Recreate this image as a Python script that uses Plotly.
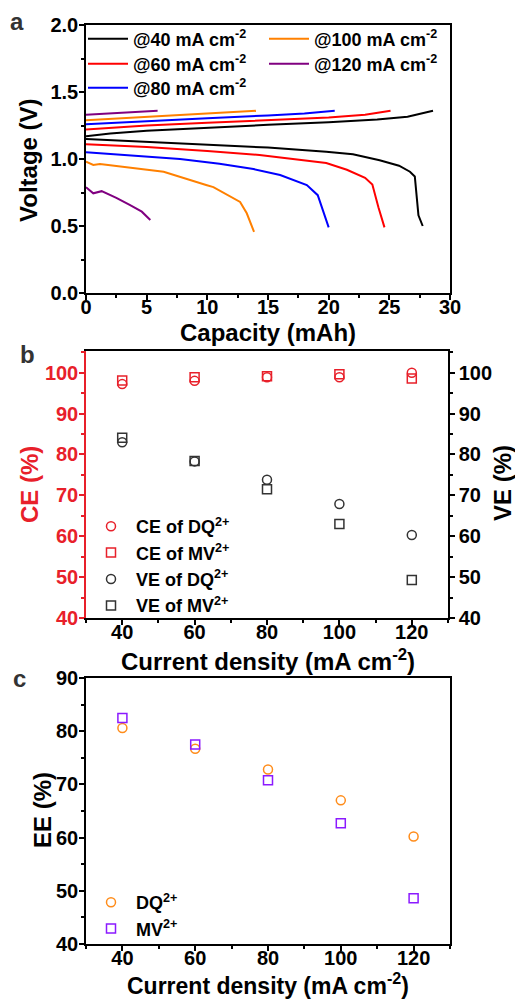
import plotly.graph_objects as go

W, H = 515, 999

# ---------------- Panel a data ----------------
labels_a = ["@40 mA cm<sup>-2</sup>", "@60 mA cm<sup>-2</sup>", "@80 mA cm<sup>-2</sup>",
            "@100 mA cm<sup>-2</sup>", "@120 mA cm<sup>-2</sup>"]
colors_a = ["#000000", "#FF0000", "#0000FF", "#FF8000", "#800080"]

chg40_cap = [0, 2, 5, 10, 15, 20, 24, 26.5, 28.6]
chg40_v = [1.17, 1.19, 1.21, 1.235, 1.255, 1.275, 1.295, 1.315, 1.36]
dis40_cap = [0, 5, 10, 15, 19.8, 22, 24.2, 25.8, 26.7, 27.1, 27.4, 27.75]
dis40_v = [1.15, 1.13, 1.11, 1.085, 1.055, 1.035, 0.99, 0.95, 0.905, 0.87, 0.58, 0.50]

chg60_cap = [0, 5, 10, 15, 20, 23, 25.1]
chg60_v = [1.22, 1.25, 1.27, 1.29, 1.31, 1.33, 1.36]
dis60_cap = [0, 5, 10, 14.3, 19.8, 21.5, 23.0, 23.6, 24.1, 24.6]
dis60_v = [1.11, 1.09, 1.06, 1.03, 0.97, 0.92, 0.86, 0.81, 0.64, 0.49]

chg80_cap = [0, 5, 10, 15, 18, 20.5]
chg80_v = [1.26, 1.285, 1.305, 1.325, 1.34, 1.36]
dis80_cap = [0, 3, 7.75, 11, 13.8, 16.0, 18.2, 19.1, 20.0]
dis80_v = [1.05, 1.03, 1.00, 0.965, 0.925, 0.88, 0.806, 0.73, 0.49]

chg100_cap = [0, 4, 8, 12, 14]
chg100_v = [1.29, 1.31, 1.33, 1.345, 1.36]
dis100_cap = [0, 0.6, 1.15, 3.5, 6.4, 9.9, 10.5, 12.7, 13.25, 13.85]
dis100_v = [0.98, 0.955, 0.962, 0.935, 0.905, 0.806, 0.79, 0.68, 0.595, 0.457]

chg120_cap = [0, 3, 5.9]
chg120_v = [1.33, 1.345, 1.36]
dis120_cap = [0, 0.6, 1.29, 2.5, 3.6, 4.6, 5.3]
dis120_v = [0.79, 0.744, 0.76, 0.71, 0.657, 0.607, 0.545]

charge_caps = [chg40_cap, chg60_cap, chg80_cap, chg100_cap, chg120_cap]
charge_vs = [chg40_v, chg60_v, chg80_v, chg100_v, chg120_v]
dis_caps = [dis40_cap, dis60_cap, dis80_cap, dis100_cap, dis120_cap]
dis_vs = [dis40_v, dis60_v, dis80_v, dis100_v, dis120_v]

# ---------------- Panel b data ----------------
current_density = [40, 60, 80, 100, 120]
ce_dq = [97.2, 98.0, 98.9, 98.9, 100.0]
ce_mv = [98.1, 98.9, 99.1, 99.6, 98.6]
ve_dq = [83.0, 78.3, 73.8, 67.9, 60.3]
ve_mv = [84.1, 78.4, 71.5, 63.0, 49.3]

# ---------------- Panel c data ----------------
ee_dq = [80.6, 76.7, 72.8, 67.0, 60.2]
ee_mv = [82.5, 77.5, 70.8, 62.7, 48.6]

FONT = "Liberation Sans, Arial, sans-serif"
RED_B = "#E8202A"

fig = go.Figure()

# panel a traces: one legend per entry for exact placement
legend_names_a = ["legend", "legend2", "legend3", "legend4", "legend5"]
for i in range(5):
    fig.add_trace(go.Scatter(x=charge_caps[i], y=charge_vs[i], mode="lines",
                             line=dict(color=colors_a[i], width=2), name=labels_a[i],
                             legend=legend_names_a[i], legendgroup=f"a{i}", xaxis="x", yaxis="y"))
    fig.add_trace(go.Scatter(x=dis_caps[i], y=dis_vs[i], mode="lines",
                             line=dict(color=colors_a[i], width=2), showlegend=False,
                             legendgroup=f"a{i}", xaxis="x", yaxis="y"))

# panel b traces
mk = dict(size=9, line=dict(width=1.5))
fig.add_trace(go.Scatter(x=current_density, y=ce_dq, mode="markers", name="CE of DQ<sup>2+</sup>",
                         marker=dict(symbol="circle-open", color=RED_B, **mk),
                         xaxis="x2", yaxis="y2", legend="legend6", legendgroup="b1"))
fig.add_trace(go.Scatter(x=current_density, y=ce_mv, mode="markers", name="CE of MV<sup>2+</sup>",
                         marker=dict(symbol="square-open", color=RED_B, **mk),
                         xaxis="x2", yaxis="y2", legend="legend6", legendgroup="b2"))
fig.add_trace(go.Scatter(x=current_density, y=ve_dq, mode="markers", name="VE of DQ<sup>2+</sup>",
                         marker=dict(symbol="circle-open", color="#333333", **mk),
                         xaxis="x2", yaxis="y4", legend="legend6", legendgroup="b3"))
fig.add_trace(go.Scatter(x=current_density, y=ve_mv, mode="markers", name="VE of MV<sup>2+</sup>",
                         marker=dict(symbol="square-open", color="#333333", **mk),
                         xaxis="x2", yaxis="y4", legend="legend6", legendgroup="b4"))

# panel c traces
fig.add_trace(go.Scatter(x=current_density, y=ee_dq, mode="markers", name="DQ<sup>2+</sup>",
                         marker=dict(symbol="circle-open", color="#FF8C1A", **mk),
                         xaxis="x3", yaxis="y3", legend="legend7", legendgroup="c1"))
fig.add_trace(go.Scatter(x=current_density, y=ee_mv, mode="markers", name="MV<sup>2+</sup>",
                         marker=dict(symbol="square-open", color="#8B1AFF", **mk),
                         xaxis="x3", yaxis="y3", legend="legend7", legendgroup="c2"))


def px_x(p):
    return p / W


def px_y(p):
    return 1 - p / H


tickfont = dict(family=FONT, size=20, color="black", weight="bold")
common = dict(showgrid=False, zeroline=False, showline=True, linecolor="black", linewidth=1.5,
              ticks="outside", ticklen=5, tickwidth=1.5, tickcolor="black", tickfont=tickfont,
              automargin=False)
minor_k = dict(ticks="outside", ticklen=3, tickcolor="black", tickwidth=1.5)

xa = dict(domain=[px_x(86), px_x(450)], range=[0, 30], dtick=5, tick0=0, mirror=True,
          ticklabelstandoff=-10, minor=dict(dtick=2.5, **minor_k), anchor="y", **common)
ya = dict(domain=[px_y(293), px_y(25)], range=[0, 2.0], dtick=0.5, tick0=0, mirror=True,
          tickformat=".1f", ticklabelstandoff=-3,
          minor=dict(dtick=0.25, **minor_k), anchor="x", **common)

xb = dict(domain=[px_x(86), px_x(448)], range=[30, 130], dtick=20, tick0=40, mirror=True,
          ticklabelstandoff=-10, minor=dict(dtick=10, tick0=30, **minor_k), anchor="y2", **common)
common_red = dict(common)
common_red.update(linecolor=RED_B, tickcolor=RED_B,
                  tickfont=dict(family=FONT, size=20, color=RED_B, weight="bold"))
yb = dict(domain=[px_y(618), px_y(351)], range=[40, 105.3], dtick=10, tick0=40,
          ticklabelstandoff=-3,
          minor=dict(dtick=5, ticks="outside", ticklen=3, tickcolor=RED_B, tickwidth=1.5),
          anchor="x2", **common_red)
yb2 = dict(overlaying="y2", side="right", range=[40, 105.3], dtick=10, tick0=40, anchor="x2",
           minor=dict(dtick=5, **minor_k), **common)

xc = dict(domain=[px_x(86), px_x(450)], range=[30, 130], dtick=20, tick0=40, mirror=True,
          ticklabelstandoff=-10, minor=dict(dtick=10, tick0=30, **minor_k), anchor="y3", **common)
yc = dict(domain=[px_y(944), px_y(678)], range=[40, 90], dtick=10, tick0=40, mirror=True,
          ticklabelstandoff=-3, minor=dict(dtick=5, **minor_k), anchor="x3", **common)

legfont = dict(family=FONT, size=18, color="black", weight="bold")
legbase = dict(bgcolor="rgba(0,0,0,0)", borderwidth=0, font=legfont, xanchor="left",
               tracegroupgap=0, itemwidth=40, orientation="v")

annots = []


def ann(text, x, y, size=24, angle=0, color="black"):
    annots.append(dict(text=text, x=px_x(x), y=px_y(y), xref="paper", yref="paper",
                       showarrow=False, textangle=angle, xanchor="center", yanchor="middle",
                       font=dict(family=FONT, size=size, color=color, weight="bold")))


ann("a", 17, 22, size=24, color="#333333")
ann("b", 27, 354, size=24, color="#333333")
ann("c", 19, 678, size=24, color="#333333")
ann("Voltage (V)", 29, 160, angle=-90)
ann("Capacity (mAh)", 268, 333)
ann("CE (%)", 29, 485, angle=-90, color=RED_B)
ann("VE (%)", 502, 483, angle=-90)
ann("Current density (mA cm<sup>-2</sup>)", 268, 660)
ann("EE (%)", 42, 810, angle=-90)
ann("Current density (mA cm<sup>-2</sup>)", 268, 984, size=23)

fig.update_layout(
    width=W, height=H, margin=dict(l=0, r=0, t=0, b=0, autoexpand=False),
    paper_bgcolor="white", plot_bgcolor="white",
    font=dict(family=FONT, weight="bold", color="black"),
    xaxis=xa, yaxis=ya, xaxis2=xb, yaxis2=yb, yaxis4=yb2, xaxis3=xc, yaxis3=yc,
    legend=dict(x=px_x(83), y=px_y(39), yanchor="middle", **legbase),
    legend2=dict(x=px_x(83), y=px_y(64), yanchor="middle", **legbase),
    legend3=dict(x=px_x(83), y=px_y(88), yanchor="middle", **legbase),
    legend4=dict(x=px_x(264), y=px_y(39), yanchor="middle", **legbase),
    legend5=dict(x=px_x(264), y=px_y(64), yanchor="middle", **legbase),
    legend6=dict(x=px_x(86), y=px_y(508), yanchor="top", **legbase),
    legend7=dict(x=px_x(86), y=px_y(884), yanchor="top", **legbase),
    annotations=annots,
    showlegend=True,
)

fig.write_html("out.html")
